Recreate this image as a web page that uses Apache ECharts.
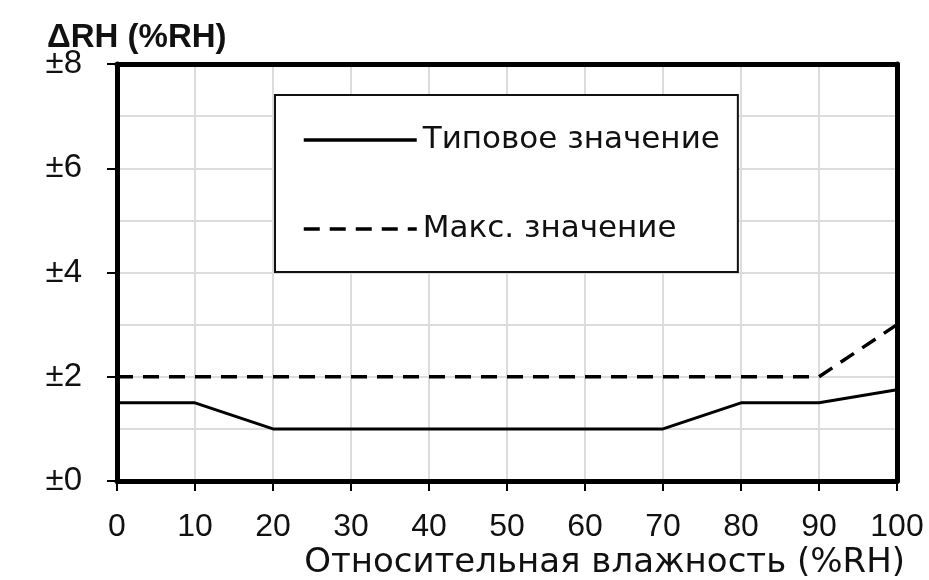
<!DOCTYPE html>
<html><head><meta charset="utf-8">
<script src="https://cdn.jsdelivr.net/npm/echarts@6/dist/echarts.min.js"></script>
<style>html,body{margin:0;padding:0;background:#fff}#c{width:929px;height:580px}</style>
</head><body><div id="c"></div>
<script>
const xValues = [0, 10, 20, 70, 80, 90, 100];
const typical = [1.5, 1.5, 1.0, 1.0, 1.5, 1.5, 1.75];
const maxXValues = [0, 90, 100];
const maxVals = [2, 2, 3];
const seriesNames = ['Типовое значение', 'Макс. значение'];
const yTitle = 'ΔRH (%RH)';
const xTitle = 'Относительная влажность (%RH)';

const numFont = '"Liberation Sans", Arial, sans-serif';
const frame = { show: true, onZero: false, lineStyle: { color: '#000', width: 5 } };
const chart = echarts.init(document.getElementById('c'));
chart.setOption({
  animation: false,
  backgroundColor: '#fff',
  grid: { left: 117, right: 32, top: 64, bottom: 99 },
  title: { text: yTitle, left: 42, top: 16, textStyle: { fontFamily: '"Liberation Sans", Arial, sans-serif', fontWeight: 'bold', fontSize: 33, color: '#111' } },
  legend: {
    orient: 'vertical', left: 275, top: 95,
    padding: [27, 18, 25, 27], itemGap: 53,
    itemWidth: 113, itemHeight: 36,
    borderColor: '#111', borderWidth: 2, backgroundColor: '#fff',
    itemStyle: { color: 'transparent', borderWidth: 0 },
    lineStyle: { width: 3.5 },
    textStyle: { fontFamily: '"DejaVu Sans", sans-serif', fontSize: 31, lineHeight: 36, color: '#111', padding: [0,0,0,1] },
    data: seriesNames
  },
  xAxis: [{
    type: 'value', min: 0, max: 100, interval: 10,
    name: xTitle, nameLocation: 'end', nameGap: 0,
    nameTextStyle: { fontFamily: '"DejaVu Sans", sans-serif', fontSize: 34, color: '#111', align: 'right', verticalAlign: 'top', padding: [65, -8, 0, 0] },
    axisLine: frame,
    axisTick: { show: true, length: 10, lineStyle: { color: '#000', width: 2 } },
    axisLabel: { fontFamily: numFont, fontSize: 32, color: '#111', margin: 30 },
    splitLine: { show: true, lineStyle: { color: '#dcdcdc', width: 2 } }
  }, {
    type: 'value', position: 'top', min: 0, max: 100,
    axisLine: frame, axisTick: { show: false }, axisLabel: { show: false }, splitLine: { show: false }
  }],
  yAxis: [{
    type: 'value', min: 0, max: 8, interval: 2,
    axisLine: frame,
    axisTick: { show: true, length: 10, lineStyle: { color: '#000', width: 2 } },
    minorTick: { show: false, splitNumber: 2 },
    minorSplitLine: { show: true, lineStyle: { color: '#dcdcdc', width: 2 } },
    axisLabel: { fontFamily: numFont, fontSize: 33, color: '#111', margin: 35,
      formatter: function(v){ return '±' + v; } },
    splitLine: { show: true, lineStyle: { color: '#dcdcdc', width: 2 } }
  }, {
    type: 'value', position: 'right', min: 0, max: 8,
    axisLine: frame, axisTick: { show: false }, axisLabel: { show: false }, splitLine: { show: false }
  }],
  series: [
    { name: seriesNames[0], type: 'line', symbol: 'none', data: xValues.map((x,i)=>[x, typical[i]]),
      lineStyle: { color: '#000', width: 3 }, itemStyle: { color: '#000' }, z: 3 },
    { name: seriesNames[1], type: 'line', symbol: 'none', data: maxXValues.map((x,i)=>[x, maxVals[i]]),
      lineStyle: { color: '#000', width: 3.5, type: [16, 10] }, itemStyle: { color: '#000' }, z: 3 }
  ]
});
</script></body></html>
